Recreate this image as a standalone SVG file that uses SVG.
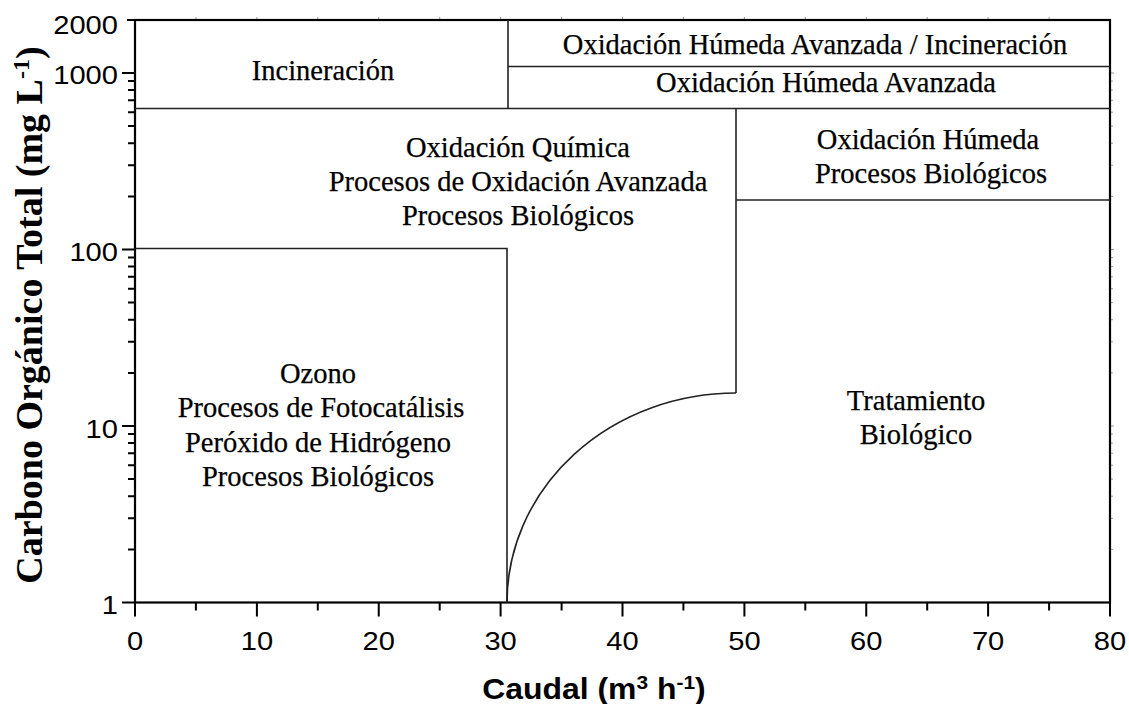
<svg xmlns="http://www.w3.org/2000/svg" width="1129" height="704" viewBox="0 0 1129 704">
<style>
.ax{stroke:#000;stroke-width:2.2;fill:none}
.ln{stroke:#222;stroke-width:1.6;fill:none}
.tk{stroke:#000;stroke-width:2}
.ft{stroke:#999;stroke-width:1}
.lbl{font-family:"Liberation Serif","Times New Roman",serif;font-size:28.5px;fill:#000;text-anchor:middle;stroke:#000;stroke-width:0.25}
.num{font-family:"Liberation Sans",Arial,sans-serif;font-size:26px;fill:#000}
.axt{font-family:"Liberation Sans",Arial,sans-serif;font-size:29px;font-weight:bold;fill:#000;text-anchor:middle}
.ayt{font-family:"Liberation Serif","Times New Roman",serif;font-size:38px;font-weight:bold;fill:#000;text-anchor:middle}
</style>
<rect width="1129" height="704" fill="#fff"/>
<g id="faint-ticks" class="ft">
<path d="M195.9,20v-3M256.9,20v-3M317.8,20v-3M378.75,20v-3M439.7,20v-3M500.6,20v-3M561.6,20v-3M622.5,20v-3M683.4,20v-3M744.4,20v-3M805.3,20v-3M866.25,20v-3M927.2,20v-3M988.1,20v-3M1049.1,20v-3"/>
<path d="M1110,549.4h3M1110,518.3h3M1110,496.2h3M1110,479.1h3M1110,465.2h3M1110,453.3h3M1110,443.1h3M1110,434.1h3M1110,426h4M1110,372.9h3M1110,341.8h3M1110,319.7h3M1110,302.6h3M1110,288.7h3M1110,276.8h3M1110,266.6h3M1110,257.6h3M1110,249.5h4M1110,196.4h3M1110,165.3h3M1110,143.2h3M1110,126.1h3M1110,112.2h3M1110,100.3h3M1110,90.1h3M1110,81.1h3M1110,73h4"/>
</g>
<g id="axes">
<rect class="ax" x="135" y="20" width="975" height="582.5"/>
<g class="tk">
<path d="M135,602.5v14M256.9,602.5v14M378.75,602.5v14M500.6,602.5v14M622.5,602.5v14M744.4,602.5v14M866.25,602.5v14M988.1,602.5v14M1110,602.5v14"/>
<path d="M195.9,602.5v8M317.8,602.5v8M439.7,602.5v8M561.6,602.5v8M683.4,602.5v8M805.3,602.5v8M927.2,602.5v8M1049.1,602.5v8"/>
<path d="M135,602.5h-13M135,426h-13M135,249.5h-13M135,73h-13M135,20h-8"/>
<path d="M135,549.4h-7M135,518.3h-7M135,496.2h-7M135,479.1h-7M135,465.2h-7M135,453.3h-7M135,443.1h-7M135,434.1h-7"/>
<path d="M135,372.9h-7M135,341.8h-7M135,319.7h-7M135,302.6h-7M135,288.7h-7M135,276.8h-7M135,266.6h-7M135,257.6h-7"/>
<path d="M135,196.4h-7M135,165.3h-7M135,143.2h-7M135,126.1h-7M135,112.2h-7M135,100.3h-7M135,90.1h-7M135,81.1h-7"/>
</g>
<g class="num" text-anchor="middle">
<text transform="translate(135,650) scale(1.12,1)">0</text>
<text transform="translate(256.9,650) scale(1.12,1)">10</text>
<text transform="translate(378.75,650) scale(1.12,1)">20</text>
<text transform="translate(500.6,650) scale(1.12,1)">30</text>
<text transform="translate(622.5,650) scale(1.12,1)">40</text>
<text transform="translate(744.4,650) scale(1.12,1)">50</text>
<text transform="translate(866.25,650) scale(1.12,1)">60</text>
<text transform="translate(988.1,650) scale(1.12,1)">70</text>
<text transform="translate(1110,650) scale(1.12,1)">80</text>
</g>
<g class="num" text-anchor="end">
<text transform="translate(118,33.5) scale(1.12,1)">2000</text>
<text transform="translate(118,83.5) scale(1.12,1)">1000</text>
<text transform="translate(118,261) scale(1.12,1)">100</text>
<text transform="translate(118,437.5) scale(1.12,1)">10</text>
<text transform="translate(118,614) scale(1.12,1)">1</text>
</g>
<text class="axt" transform="translate(594,699) scale(1.1,1)">Caudal (m<tspan font-size="19" dy="-10">3</tspan><tspan dy="10"> h</tspan><tspan font-size="19" dy="-10">-1</tspan><tspan dy="10">)</tspan></text>
<text class="ayt" transform="translate(42,315) rotate(-90)">Carbono Orgánico Total (mg L<tspan font-size="24" dy="-13">-1</tspan><tspan dy="13">)</tspan></text>
</g>
<g id="connectors">
<path class="ln" d="M135,108.5H1110"/>
<path class="ln" d="M508,20V108.5"/>
<path class="ln" d="M508,66.5H1110"/>
<path class="ln" d="M135,248.5H507V602.5"/>
<path class="ln" d="M736,108.5V393"/>
<path class="ln" d="M736,200H1110"/>
<path class="ln" d="M507,602.5A229,209.5 0 0 1 736,393"/>
</g>
<g id="region-incineracion"><text class="lbl" x="323" y="80">Incineración</text></g>
<g id="region-ohai"><text class="lbl" x="815" y="54">Oxidación Húmeda Avanzada / Incineración</text></g>
<g id="region-oha"><text class="lbl" x="826" y="92">Oxidación Húmeda Avanzada</text></g>
<g id="region-oq"><text class="lbl" x="518" y="157">Oxidación Química</text><text class="lbl" x="518" y="191">Procesos de Oxidación Avanzada</text><text class="lbl" x="518" y="225">Procesos Biológicos</text></g>
<g id="region-oh"><text class="lbl" x="928" y="149">Oxidación Húmeda</text><text class="lbl" x="931" y="183">Procesos Biológicos</text></g>
<g id="region-ozono"><text class="lbl" x="318" y="383">Ozono</text><text class="lbl" x="321" y="417">Procesos de Fotocatálisis</text><text class="lbl" x="318" y="452">Peróxido de Hidrógeno</text><text class="lbl" x="318" y="486">Procesos Biológicos</text></g>
<g id="region-tratamiento"><text class="lbl" x="916" y="410">Tratamiento</text><text class="lbl" x="916" y="444">Biológico</text></g>
</svg>
